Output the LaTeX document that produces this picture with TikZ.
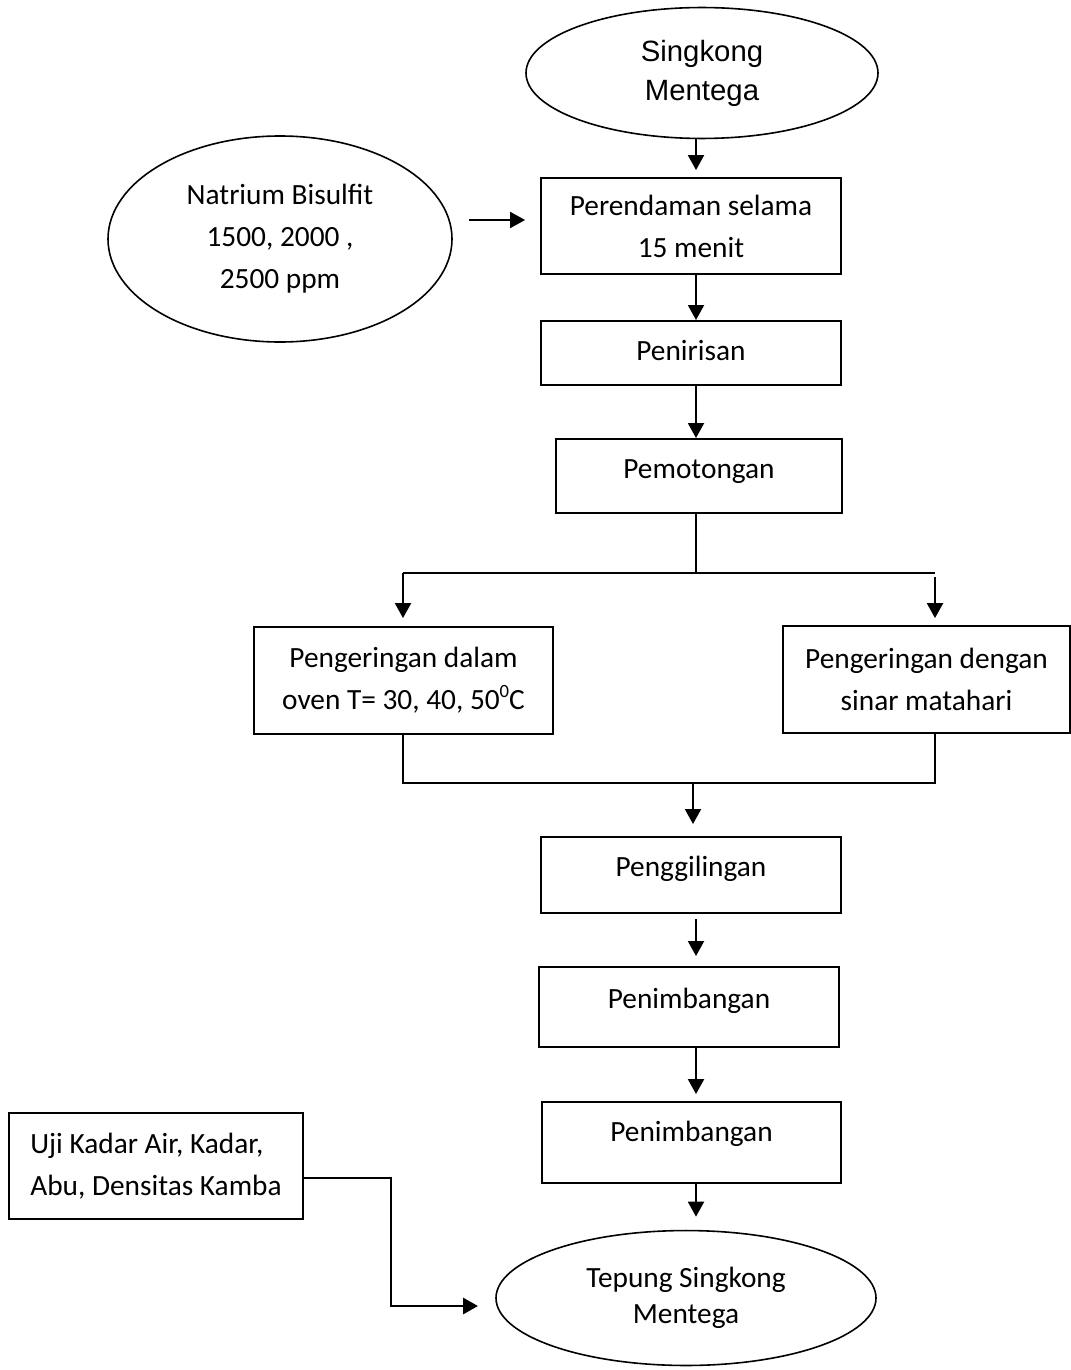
\documentclass[tikz,border=0pt]{standalone}
\usepackage{fontspec}
\setmainfont{Carlito}
\newfontfamily\arialf{Liberation Sans}
\usetikzlibrary{shapes.geometric,arrows.meta,calc}
\newcommand{\degsup}{\raisebox{0.85ex}{\fontsize{7pt}{7pt}\selectfont 0}}
\begin{document}
\begin{tikzpicture}[x=0.375pt,y=-0.375pt,
  box/.style={draw,line width=0.75pt,rectangle,inner sep=0pt,font=\fontsize{11pt}{15.8pt}\selectfont,align=center},
  oval/.style={draw,line width=0.6pt,ellipse,inner sep=0pt,font=\fontsize{11pt}{15.8pt}\selectfont,align=center},
  one/.style={text height=8pt,text depth=#1},
  arr/.style={line width=0.7pt,-{Triangle[length=5.6pt,width=6pt]}},
  ln/.style={line width=0.7pt}]
\fill[white] (0,0) rectangle (1071,1370);
\useasboundingbox (0,0) rectangle (1071,1370);

\node[oval,minimum width=132pt,minimum height=49.1pt,font=\arialf\fontsize{11pt}{14.6pt}\selectfont] (s) at (702,73) {Singkong\\Mentega};
\node[oval,minimum width=129pt,minimum height=77.25pt] (n) at (280,239) {Natrium Bisulfit\\1500, 2000 ,\\2500 ppm};
\node[box,minimum width=112.5pt,minimum height=36pt] (b1) at (691,226) {Perendaman selama\\15 menit};
\node[box,one=2.1pt,minimum width=112.5pt,minimum height=24pt] (b2) at (691,353) {Penirisan};
\node[box,one=6.2pt,minimum width=107.25pt,minimum height=27.75pt] (b3) at (699,476) {Pemotongan};
\node[box,minimum width=112.1pt,minimum height=40.1pt] (b4) at (403.5,680.5) {Pengeringan dalam\\oven T= 30, 40, 50\degsup C};
\node[box,minimum width=107.6pt,minimum height=40.1pt] (b5) at (926.5,679.5) {Pengeringan dengan\\sinar matahari};
\node[box,one=7pt,minimum width=112.5pt,minimum height=28.5pt] (b6) at (691,875) {Penggilingan};
\node[box,one=7pt,minimum width=112.5pt,minimum height=30pt] (b7) at (689,1007) {Penimbangan};
\node[box,one=8.5pt,minimum width=112.1pt,minimum height=30.4pt] (b8) at (691.5,1142.5) {Penimbangan};
\node[box,align=left,minimum width=110.25pt,minimum height=39.75pt] (u) at (156,1166) {Uji Kadar Air, Kadar,\\Abu, Densitas Kamba};
\node[oval,minimum width=142.5pt,minimum height=50.6pt,font=\fontsize{11pt}{13.4pt}\selectfont] (t) at (686,1298) {Tepung Singkong\\Mentega};

\coordinate (col) at (696,0);
\draw[arr,shorten >=2.6pt] (s.south -| col) -- (b1.north -| col);
\coordinate (na) at (0,220);
\draw[arr,shorten <=6pt,shorten >=5.6pt] (na -| n.east) -- (na -| b1.west);
\draw[arr] (b1.south -| col) -- (b2.north -| col);
\draw[arr] (b2.south -| col) -- (b3.north -| col);
\coordinate (sp) at (696,573);
\coordinate (sl) at (403,573);
\coordinate (sr) at (935,573);
\draw[ln] (b3.south -| sp) -- (sp);
\draw[ln] (sl) -- (sr);
\draw[arr,shorten >=3pt] (sl) -- (sl |- b4.north);
\draw[arr,shorten <=1.5pt,shorten >=2.6pt] (sr) -- (sr |- b5.north);
\coordinate (ml) at (403,783);
\coordinate (mr) at (935,783);
\coordinate (mc) at (693,783);
\draw[ln] (b4.south -| ml) -- (ml) -- (mr) -- (b5.south -| mr);
\draw[arr,shorten >=4.5pt] (mc) -- (mc |- b6.north);
\draw[arr,shorten <=1.9pt,shorten >=3.75pt] (b6.south -| col) -- (b7.north -| col);
\draw[arr,shorten >=2.6pt] (b7.south -| col) -- (b8.north -| col);
\draw[arr,shorten >=4.9pt] (b8.south -| col) -- (t.north -| col);
\coordinate (ub) at (391,1306);
\coordinate (ut) at (478,1306);
\draw[arr,line width=1.1pt] ([yshift=-4.5pt]u.east) -| (ub) -- (ut);
\end{tikzpicture}
\end{document}
